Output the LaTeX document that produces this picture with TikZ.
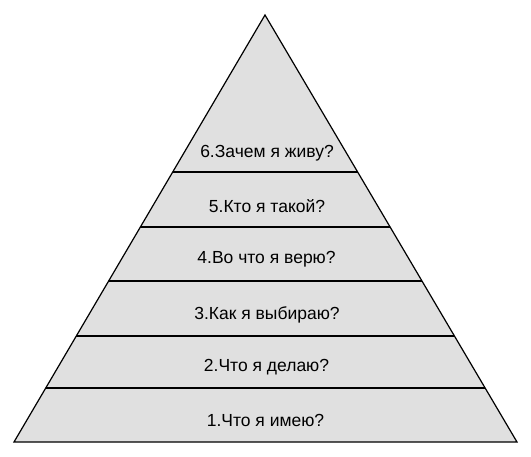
\documentclass[tikz,border=0pt]{standalone}
\usepackage{fontspec}
\setmainfont{Liberation Sans}
\usepackage{tikz}

\begin{document}
\begin{tikzpicture}[x=1pt,y=1pt,yscale=-1,xscale=1,
  level/.style={anchor=base,inner sep=0.75pt,font=\fontsize{17.5}{21}\selectfont}]
\useasboundingbox (0,0) rectangle (531,456);
%Triangle [id:pyramid]
\draw [fill={rgb, 255:red, 224; green, 224; blue, 224 }  ][line width=1.2]  (265,15) -- (517,442) -- (14,442) -- cycle ;
%Straight Lines [id:level6]
\draw [line width=1.2]    (172.7,172) -- (357.7,172) ;
%Straight Lines [id:level5]
\draw [line width=1.2]    (140.4,227) -- (390.1,227) ;
%Straight Lines [id:level4]
\draw [line width=1.2]    (108.6,281) -- (422,281) ;
%Straight Lines [id:level3]
\draw [line width=1.2]    (76.3,336) -- (454.4,336) ;
%Straight Lines [id:level2]
\draw [line width=1.2]    (45.7,388) -- (485.1,388) ;

% Text Node
\node [level] (q6) at (267,157) {6.Зачем я живу?};
% Text Node
\node [level] (q5) at (267,212) {5.Кто я такой?};
% Text Node
\node [level] (q4) at (266.5,263) {4.Во что я верю?};
% Text Node
\node [level] (q3) at (267,319) {3.Как я выбираю?};
% Text Node
\node [level] (q2) at (266.5,371) {2.Что я делаю?};
% Text Node
\node [level] (q1) at (265.5,426) {1.Что я имею?};
\end{tikzpicture}
\end{document}
